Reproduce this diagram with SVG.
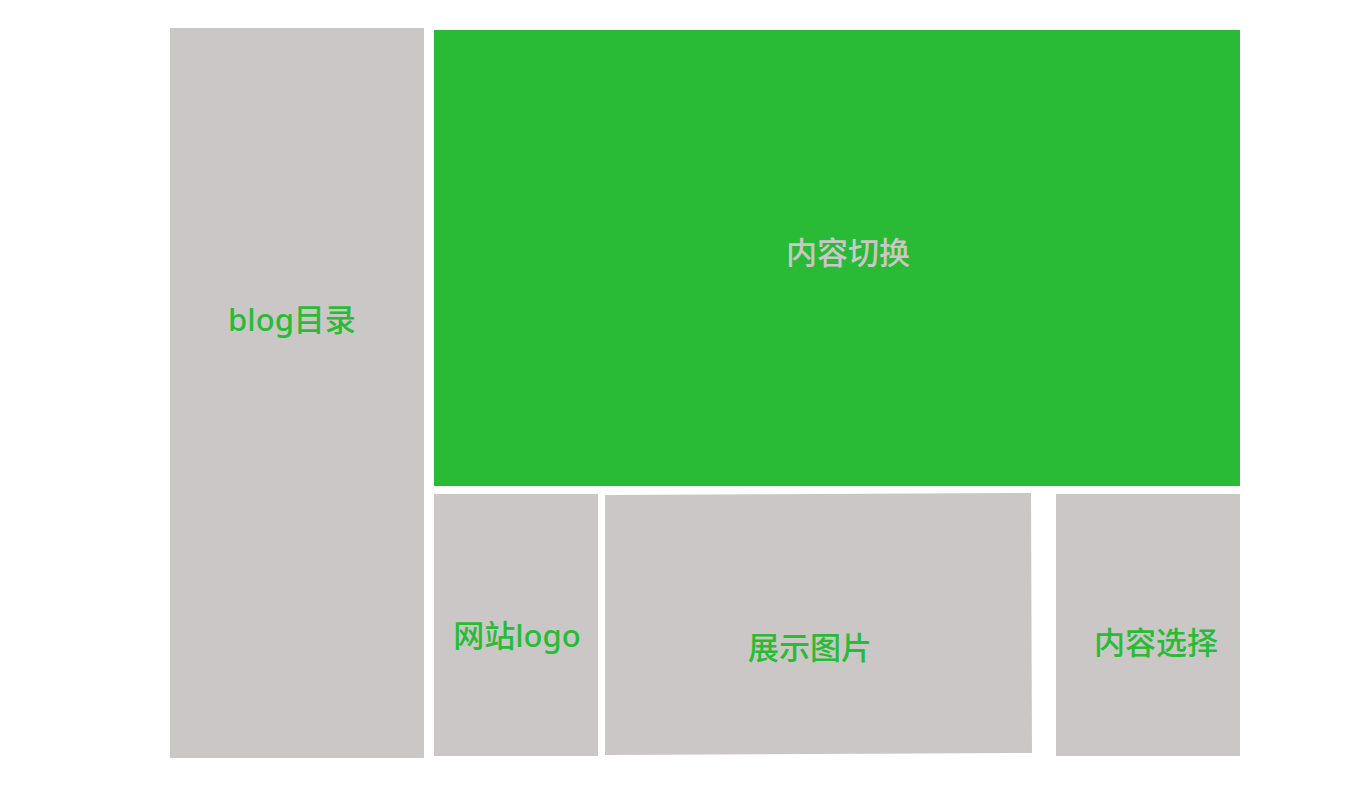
<svg xmlns="http://www.w3.org/2000/svg" width="1366" height="800" viewBox="0 0 1366 800">
<style>
.g{fill:#cbc7c6}
.gr{fill:#29bb36}
text{font-family:"Noto Sans","Noto Sans CJK SC",sans-serif;font-size:31px;font-weight:500;text-anchor:middle;dominant-baseline:central}
.tg{fill:#29bb36}
.tl{fill:#cbc7c6}
</style>
<rect width="1366" height="800" fill="#fff"/>
<g id="blog">
<rect class="g" x="170" y="28" width="254" height="730"/>
<text class="tg" x="292" y="319">blog目录</text>
</g>
<g id="content-switch">
<rect class="gr" x="434" y="30" width="806" height="456"/>
<text class="tl" x="848" y="252">内容切换</text>
</g>
<g id="logo">
<rect class="g" x="434" y="494" width="164" height="262"/>
<text class="tg" x="517" y="635">网站logo</text>
</g>
<g id="pictures">
<polygon class="g" points="605,495 1031,493 1032,753 605,755"/>
<text class="tg" x="810" y="647">展示图片</text>
</g>
<g id="content-select">
<rect class="g" x="1056" y="494" width="184" height="262"/>
<text class="tg" x="1156" y="642">内容选择</text>
</g>
<g id="connectors"/>
</svg>
